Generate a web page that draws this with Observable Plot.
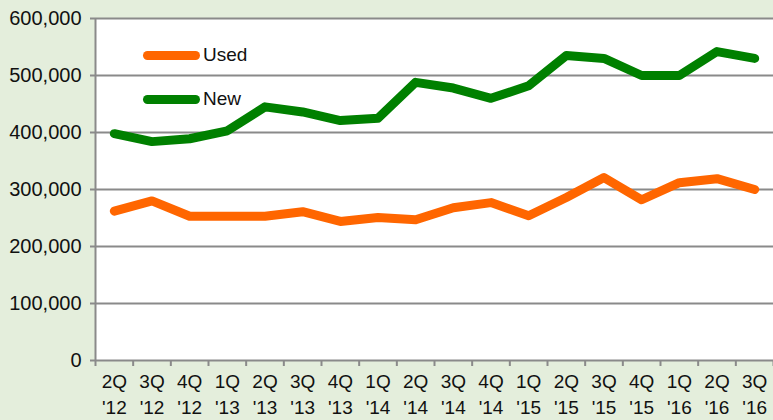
<!DOCTYPE html>
<html><head><meta charset="utf-8">
<script src="https://cdn.jsdelivr.net/npm/d3@7"></script>
<script src="https://cdn.jsdelivr.net/npm/@observablehq/plot@0.6"></script>
<style>
html,body{margin:0;padding:0;background:#e4eedc;}
#wrap{position:relative;width:773px;height:420px;overflow:hidden;}
.leg{position:absolute;font-family:"Liberation Sans Narrow","Liberation Sans",Arial,sans-serif;font-size:19px;color:#111;display:flex;align-items:center;}
.leg span.sw{display:inline-block;width:57px;height:9px;border-radius:5px;margin-right:3px;}
</style></head>
<body><div id="wrap"></div>
<script>
const quarters = ["2Q","3Q","4Q","1Q","2Q","3Q","4Q","1Q","2Q","3Q","4Q","1Q","2Q","3Q","4Q","1Q","2Q","3Q"];
const years = ["'12","'12","'12","'13","'13","'13","'13","'14","'14","'14","'14","'15","'15","'15","'15","'16","'16","'16"];
const used = [262000,280000,253000,253000,253000,261000,244000,251000,247000,268000,277000,254000,286000,321000,282000,312000,319000,300000];
const newer = [398000,384000,389000,403000,445000,436000,421000,425000,488000,478000,460000,482000,535000,530000,500000,500000,542000,530000];
const seriesNames = ["Used","New"];
const seriesColors = ["#ff6600","#008000"];
const yTicks = [0,100000,200000,300000,400000,500000,600000];

const idx = d3.range(quarters.length);
const rows = [];
idx.forEach(i => { rows.push({i, v: used[i], s: seriesNames[0]}); });
idx.forEach(i => { rows.push({i, v: newer[i], s: seriesNames[1]}); });
const bounds = d3.range(quarters.length + 1).map(k => k - 0.5);

const font = "'Liberation Sans', Arial, sans-serif";
const chart = Plot.plot({
  width: 773, height: 420,
  marginTop: 18, marginBottom: 60, marginLeft: 95, marginRight: 0,
  style: {background: "transparent", fontFamily: font, fontSize: "19px", color: "#111"},
  x: {type: "linear", domain: [-0.5, quarters.length - 0.5]},
  y: {domain: [0, 600000]},
  color: {domain: seriesNames, range: seriesColors},
  marks: [
    Plot.frame({fill: "white", stroke: null}),
    Plot.gridY(yTicks, {stroke: "#8a8a8a", strokeOpacity: 1, strokeWidth: 2}),
    Plot.ruleX([-0.5], {stroke: "#8a8a8a", strokeWidth: 2}),
    Plot.axisY(yTicks, {tickSize: 5, tickPadding: 9, stroke: "#8a8a8a", strokeWidth: 2, tickFormat: d3.format(","), label: null, fill: "#111", fontSize: 20}),
    Plot.axisX(bounds, {tickSize: 6, tickFormat: () => "", stroke: "#8a8a8a", strokeWidth: 2, label: null}),
    Plot.axisX(idx, {tickSize: 0, tickPadding: 10, lineHeight: 1.33, tickFormat: i => quarters[i] + "\n" + years[i], label: null, fill: "#111"}),
    Plot.line(rows, {x: "i", y: "v", z: "s", stroke: "s", strokeWidth: 9, strokeLinejoin: "round", strokeLinecap: "round"})
  ]
});
const wrap = document.getElementById("wrap");
wrap.appendChild(chart);
const legTops = [44, 88];
seriesNames.forEach((n, k) => {
  const d = document.createElement("div");
  d.className = "leg";
  d.style.left = "143px"; d.style.top = legTops[k] + "px";
  d.innerHTML = `<span class="sw" style="background:${seriesColors[k]}"></span>${n}`;
  wrap.appendChild(d);
});
</script></body></html>
